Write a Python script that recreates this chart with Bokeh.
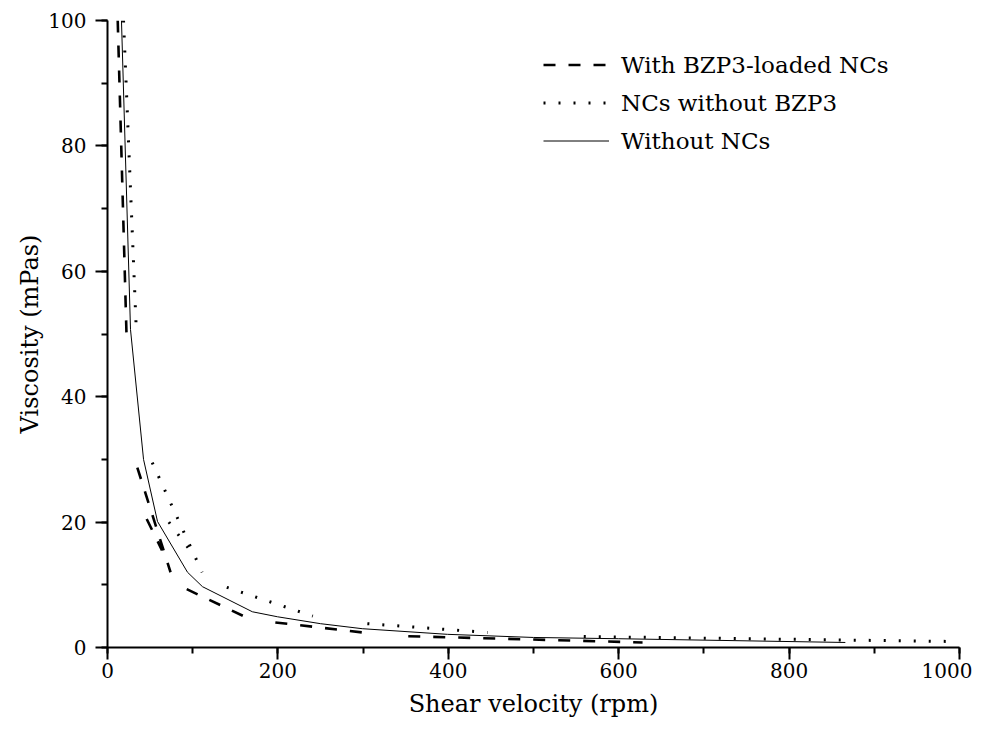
import numpy as np
from bokeh.plotting import figure
from bokeh.models import Range1d, SingleIntervalTicker, Legend, LegendItem
from bokeh.embed import file_html
from bokeh.resources import INLINE

nan = np.nan

# Series: "With BZP3-loaded NCs" (dashed); NaN marks breaks in the drawn line
bzp_x = [12, 22.3, nan, 35, 74, nan, 46, 64, nan, 93, 163, nan, 197, 299, nan, 353, 628]
bzp_y = [100, 50, nan, 28.7, 12, nan, 20.5, 15.5, nan, 9.3, 4.8, nan, 4.0, 2.4, nan, 1.8, 0.8]

# Series: "NCs without BZP3" (dotted)
ncs_x = [18.8, 34, nan, 52.5, 111, nan, 72, 104, nan, 140, 241, nan, 305, 446, nan, 559, 998]
ncs_y = [100, 50, nan, 29.5, 12, nan, 20, 14.2, nan, 9.6, 5.0, nan, 3.8, 2.4, nan, 1.75, 0.95]

# Series: "Without NCs" (solid)
wo_x = [16.4, 27, 42.3, 58.7, 93.9, 111.5, 170, 199.5, 250, 299, 399, 500, 600, 866]
wo_y = [100, 50.7, 30, 20.1, 12, 9.7, 5.7, 4.9, 3.8, 3.0, 2.1, 1.6, 1.4, 0.8]

labels = ["With BZP3-loaded NCs", "NCs without BZP3", "Without NCs"]
x_title = "Shear velocity (rpm)"
y_title = "Viscosity (mPas)"

FONT = "DejaVu Serif"

p = figure(frame_width=852, frame_height=627, output_backend="svg", toolbar_location=None,
           x_range=Range1d(0, 1000), y_range=Range1d(0, 100),
           min_border_left=107, min_border_right=13, min_border_top=20, min_border_bottom=78)

p.outline_line_color = None
p.xgrid.visible = False
p.ygrid.visible = False

r1 = p.line(bzp_x, bzp_y, line_color="black", line_width=2.6, line_dash="12 13")
r2 = p.line(ncs_x, ncs_y, line_color="black", line_width=3, line_dash="2 13")
r3 = p.line(wo_x, wo_y, line_color="black", line_width=1)

p.xaxis.ticker = SingleIntervalTicker(interval=200, num_minor_ticks=2)
p.yaxis.ticker = SingleIntervalTicker(interval=20, num_minor_ticks=2)

for ax in (p.xaxis, p.yaxis):
    ax.axis_line_width = 2
    ax.axis_line_color = "black"
    ax.major_tick_line_width = 2
    ax.minor_tick_line_width = 2
    ax.major_tick_line_color = "black"
    ax.minor_tick_line_color = "black"
    ax.major_tick_in = 0
    ax.major_tick_out = 12
    ax.minor_tick_in = 0
    ax.minor_tick_out = 6
    ax.major_label_text_font = FONT
    ax.major_label_text_font_size = "20px"
    ax.major_label_text_color = "black"
    ax.axis_label_text_font = FONT
    ax.axis_label_text_font_size = "24px"
    ax.axis_label_text_font_style = "normal"
    ax.axis_label_text_color = "black"

p.xaxis.axis_label = x_title
p.yaxis.axis_label = y_title
p.xaxis.major_label_standoff = 3
p.yaxis.major_label_standoff = 9
p.xaxis.axis_label_standoff = 9
p.yaxis.axis_label_standoff = 1

legend = Legend(items=[LegendItem(label=labels[0], renderers=[r1]),
                       LegendItem(label=labels[1], renderers=[r2]),
                       LegendItem(label=labels[2], renderers=[r3])],
                location=(436, 488))
legend.label_text_font = FONT
legend.label_text_font_size = "23px"
legend.label_text_color = "black"
legend.glyph_width = 66
legend.glyph_height = 37
legend.label_height = 37
legend.spacing = 1
legend.padding = 0
legend.margin = 0
legend.label_standoff = 12
legend.border_line_color = None
legend.background_fill_alpha = 0
p.add_layout(legend)

open("out.html", "w").write(file_html(p, INLINE))
